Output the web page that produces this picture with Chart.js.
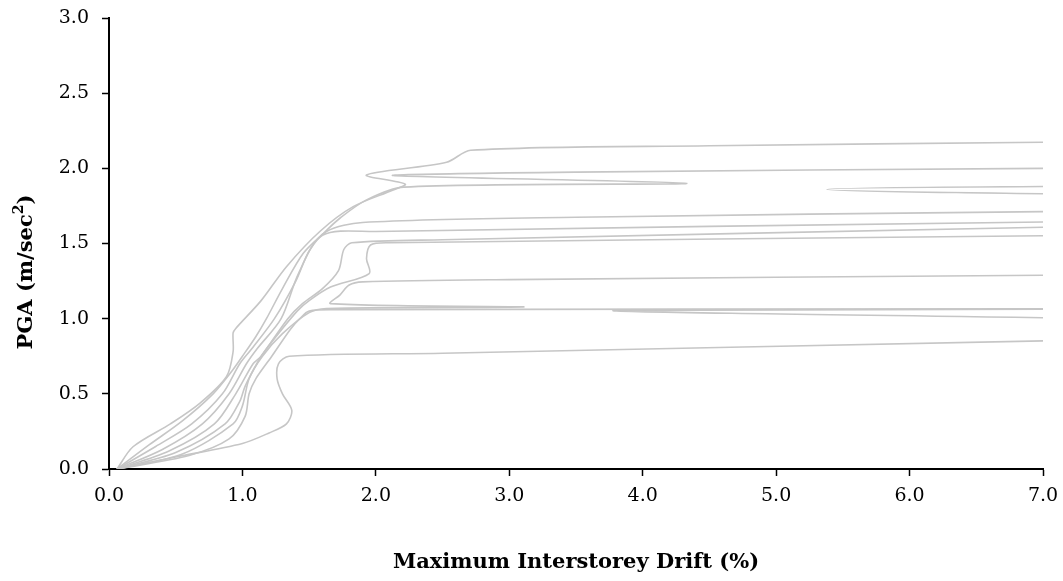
<!DOCTYPE html>
<html>
<head>
<meta charset="utf-8">
<script src="https://cdn.jsdelivr.net/npm/chart.js@4.4.1/dist/chart.umd.min.js"></script>
<style>
  html, body { margin: 0; padding: 0; background: #fff; }
  #wrap { width: 1063px; height: 581px; position: relative; }
</style>
</head>
<body>
<div id="wrap"><canvas id="chart-ida"></canvas></div>
<script>
// ─── Data: drift (%) vs PGA (m/sec²), one pair of arrays per record ─────────
const xTicks = [0, 1, 2, 3, 4, 5, 6, 7];
const yTicks = [0, 0.5, 1, 1.5, 2, 2.5, 3];

const drift1 = [0.06, 0.18, 0.46, 0.68, 0.88, 0.93, 0.93, 0.95, 1.14, 1.33, 1.58, 1.83, 2.13, 2.22, 1.93, 2.53, 2.71, 4.5, 7];
const pga1   = [0, 0.148, 0.30, 0.437, 0.614, 0.78, 0.905, 0.935, 1.12, 1.346, 1.58, 1.745, 1.856, 1.895, 1.956, 2.04, 2.12, 2.15, 2.174];

const drift2 = [0.06, 0.3, 0.55, 0.78, 0.92, 1.0, 1.1, 1.18, 1.3, 1.456, 1.61, 1.73, 1.93, 2.21, 4.33, 2.13, 3.5, 7];
const pga2   = [0, 0.16, 0.32, 0.5, 0.65, 0.75, 0.88, 1.0, 1.2, 1.435, 1.57, 1.668, 1.79, 1.875, 1.90, 1.952, 1.975, 2.0];

const drift3 = [0.06, 0.35, 0.62, 0.85, 0.98, 1.07, 1.24, 1.4, 1.5, 1.63, 1.9, 3.5, 7, 12, 5.38, 12];
const pga3   = [0, 0.15, 0.30, 0.5, 0.7, 0.8, 1.0, 1.25, 1.45, 1.58, 1.64, 1.675, 1.712, 1.76, 1.86, 1.90];

const drift4 = [0.06, 0.4, 0.70, 0.9, 1.03, 1.11, 1.29, 1.42, 1.6, 2.0, 7];
const pga4   = [0, 0.13, 0.30, 0.5, 0.7, 0.8, 1.0, 1.3, 1.555, 1.58, 1.643];

const drift5 = [0.06, 0.45, 0.79, 0.95, 1.08, 1.14, 1.34, 1.45, 1.6, 1.72, 1.76, 1.82, 2.5, 7];
const pga5   = [0, 0.12, 0.30, 0.5, 0.7, 0.75, 1.0, 1.1, 1.2, 1.32, 1.46, 1.505, 1.525, 1.608];

const drift6 = [0.06, 0.5, 0.87, 0.98, 1.02, 1.12, 1.18, 1.41, 1.5, 1.66, 1.95, 1.93, 1.96, 2.1, 7];
const pga6   = [0, 0.11, 0.30, 0.45, 0.55, 0.72, 0.8, 1.05, 1.12, 1.21, 1.30, 1.40, 1.49, 1.505, 1.552];

const drift7 = [0.06, 0.55, 0.93, 1.0, 1.05, 1.15, 1.3, 1.5, 1.63, 3.11, 1.66, 1.73, 1.8, 1.9, 3, 7];
const pga7   = [0, 0.10, 0.30, 0.42, 0.6, 0.75, 0.9, 1.04, 1.068, 1.078, 1.10, 1.157, 1.224, 1.245, 1.26, 1.289];

const drift8 = [0.06, 0.6, 0.9, 1.02, 1.05, 1.1, 1.22, 1.36, 1.43, 1.5, 1.7, 7];
const pga8   = [0, 0.09, 0.2, 0.35, 0.5, 0.6, 0.75, 0.93, 1.0, 1.05, 1.06, 1.065];

const drift9 = [0.06, 0.5, 1.0, 1.2, 1.33, 1.37, 1.3, 1.26, 1.27, 1.35, 2.5, 7, 12, 3.79, 15];
const pga9   = [0, 0.08, 0.17, 0.24, 0.30, 0.39, 0.5, 0.6, 0.7, 0.75, 0.77, 0.852, 0.93, 1.055, 1.07];

const records = [
  [drift1, pga1], [drift2, pga2], [drift3, pga3], [drift4, pga4], [drift5, pga5],
  [drift6, pga6], [drift7, pga7], [drift8, pga8], [drift9, pga9]
];

// ─── Axis titles (drawn by hand so the superscript sits right) ──────────────
const axisTitles = {
  id: 'axisTitles',
  afterDraw(chart) {
    const c = chart.ctx;
    const big = 'bold 21px "DejaVu Serif"';
    const sup = 'bold 14px "DejaVu Serif"';
    c.save();
    c.fillStyle = '#000';
    c.font = big;
    c.textAlign = 'center';
    c.textBaseline = 'middle';
    c.fillText('Maximum Interstorey Drift (%)', 576, 563);

    c.translate(27, 272);
    c.rotate(-Math.PI / 2);
    const main = 'PGA (m/sec';
    const w1 = c.measureText(main).width;
    c.font = sup;
    const w2 = c.measureText('2').width;
    c.font = big;
    const w3 = c.measureText(')').width;
    let x = -(w1 + w2 + w3) / 2;
    c.textAlign = 'left';
    c.fillText(main, x, 0);
    x += w1;
    c.font = sup;
    c.fillText('2', x, -8);
    x += w2;
    c.font = big;
    c.fillText(')', x, 0);
    c.restore();
  }
};

new Chart(document.getElementById('chart-ida'), {
  type: 'scatter',
  data: {
    datasets: records.map(([xs, ys], i) => ({
      label: 'Record ' + (i + 1),
      data: xs.map((x, k) => ({ x, y: ys[k] })),
      showLine: true,
      borderColor: '#c6c6c6',
      borderWidth: 1.6,
      pointRadius: 0,
      tension: 0.3,
      fill: false,
    }))
  },
  options: {
    responsive: true,
    maintainAspectRatio: false,
    animation: false,
    layout: { padding: { top: 18, right: 20, left: 0, bottom: 0 } },
    elements: { line: { capBezierPoints: false } },
    plugins: { legend: { display: false }, tooltip: { enabled: false } },
    scales: {
      x: {
        type: 'linear', min: 0, max: 7,
        afterFit: s => { s.height = 112; s.paddingLeft = 0; s.paddingRight = 0; },
        afterBuildTicks: s => { s.ticks = xTicks.map(v => ({ value: v })); },
        ticks: { callback: v => v.toFixed(1), color: '#000', padding: 9, maxRotation: 0,
                 font: { family: 'DejaVu Serif', size: 19 } },
        grid: { drawOnChartArea: false, tickLength: 7, tickColor: '#000', tickWidth: 1.5 },
        border: { color: '#000', width: 2 }
      },
      y: {
        type: 'linear', min: 0, max: 3,
        afterFit: s => { s.width = 109; s.paddingTop = 0; s.paddingBottom = 0; },
        afterBuildTicks: s => { s.ticks = yTicks.map(v => ({ value: v })); },
        ticks: { callback: v => v.toFixed(1), color: '#000', padding: 13,
                 font: { family: 'DejaVu Serif', size: 19 } },
        grid: { drawOnChartArea: false, tickLength: 7, tickColor: '#000', tickWidth: 1.5 },
        border: { color: '#000', width: 2 }
      }
    }
  },
  plugins: [axisTitles]
});
</script>
</body>
</html>
